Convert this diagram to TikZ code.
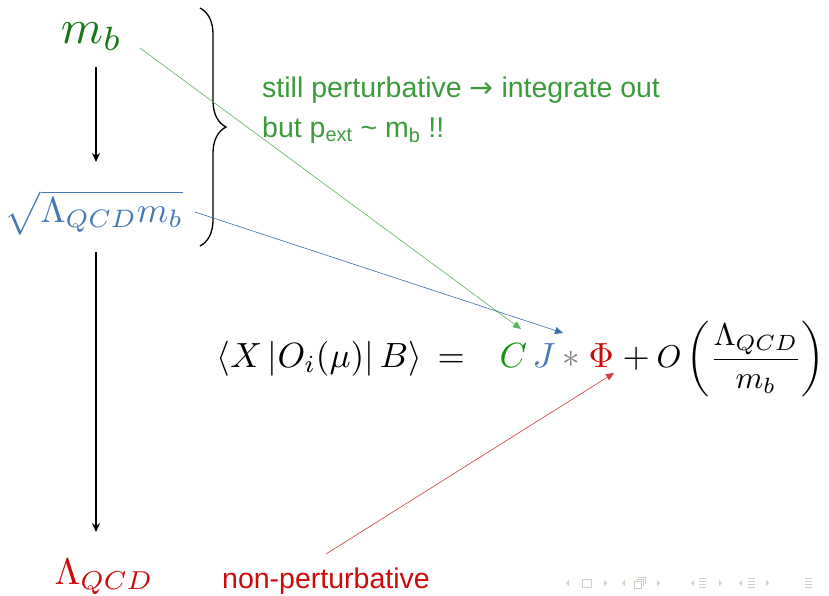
\documentclass[tikz,border=0pt]{standalone}
\usepackage{amsmath}
\usepackage{fontspec}
\newfontfamily\sansarial{Liberation Sans}
\newfontfamily\dejavu{DejaVu Sans}
\usetikzlibrary{arrows.meta,decorations.pathreplacing}
\definecolor{mbgreen}{RGB}{20,120,20}
\definecolor{txtgreen}{RGB}{60,155,60}
\definecolor{arrgreen}{RGB}{90,180,90}
\definecolor{sqblue}{RGB}{70,120,185}
\definecolor{arrblue}{RGB}{60,110,175}
\definecolor{qred}{RGB}{205,10,10}
\definecolor{navgray}{RGB}{200,210,195}
\tikzset{
  eqpart/.style={inner sep=0pt, scale=3.5, anchor=base west},
  sanslabel/.style={inner sep=0pt, font=\sansarial\fontsize{28.5}{40}\selectfont, align=left},
  flowarrow/.style={-{Stealth[length=9pt,width=8pt]}, line width=1.3pt, black},
  pointer/.style={-{Triangle[length=8pt,width=7pt]}, line width=0.6pt},
}
\begin{document}
\begin{tikzpicture}[x=1pt,y=-1pt]
\useasboundingbox[fill=white] (0,0) rectangle (829,595);
% scale column
\node[inner sep=0pt, scale=4.8, anchor=base west, text=mbgreen] (mb) at (60,43) {$m_b$};
\node[inner sep=0pt, scale=3.6, anchor=base west, text=sqblue] (sq) at (4,222) {$\sqrt{\Lambda_{QCD}m_b}$};
\node[inner sep=0pt, scale=3.7, anchor=base west, text=qred] (lq) at (54,584) {$\Lambda_{QCD}$};
\coordinate (a1s) at (96,67);
\coordinate (a1e) at (96,162);
\coordinate (a2s) at (96,252);
\coordinate (a2e) at (96,532);
\draw[flowarrow] (a1s) -- (a1e);
\draw[flowarrow] (a2s) -- (a2e);
% brace
\coordinate (bt) at (200,8);
\coordinate (bb) at (200,246);
\draw[line width=1.3pt, decorate, decoration={brace, amplitude=26pt}] (bt) -- (bb);
% green text
\node[sanslabel, anchor=base west, text=txtgreen] (still) at (262,137) {still perturbative {\dejavu →} integrate out\\but p\textsubscript{ext} \textasciitilde{} m\textsubscript{b} !!};
% equation
\node[eqpart] (lhs) at (216,367) {$\langle X\,|O_i(\mu)|\,B\rangle$};
\node[eqpart] (eq) at (437,367) {$=$};
\node[eqpart, text=mbgreen!80!green] (C) at (499,367) {$C$};
\node[eqpart, text=sqblue] (J) at (532,367) {$J$};
\node[eqpart, text=gray] (st) at (562,367) {$*$};
\node[eqpart, text=qred] (Phi) at (588,367) {$\Phi$};
\node[eqpart] (plus) at (622,367) {$+$};
\node[eqpart, scale=0.9] (rest) at (656,367) {$O\left(\dfrac{\Lambda_{QCD}}{m_b}\right)$};
% pointers
\coordinate (gs) at (140,48);
\coordinate (ge) at (521,329);
\coordinate (bs) at (195,212);
\coordinate (be) at (563,333);
\coordinate (rs) at (326,554);
\coordinate (re) at (614,373);
\draw[pointer, arrgreen] (gs) -- (ge);
\draw[pointer, arrblue] (bs) -- (be);
\draw[pointer, qred!80!white] (rs) -- (re);
% non-perturbative
\node[sanslabel, anchor=base west, text=qred] (np) at (222,588) {non-perturbative};
% navigation symbols
\begin{scope}[navgray, line width=0.7pt]
  \fill (569,580) -- (566,583) -- (569,586) -- cycle;
  \draw (582,579) rectangle (591,587);
  \fill (604,580) -- (607,583) -- (604,586) -- cycle;
  \fill (625,580) -- (622,583) -- (625,586) -- cycle;
  \draw (634,581) rectangle (641,588);
  \draw (636,579) -- (643,579) -- (643,586);
  \draw (638,577) -- (645,577) -- (645,584);
  \fill (657,580) -- (660,583) -- (657,586) -- cycle;
  \fill (694,580) -- (691,583) -- (694,586) -- cycle;
  \foreach \yy in {578,581,584,587} \draw (699,\yy) -- (706,\yy);
  \fill (719,580) -- (722,583) -- (719,586) -- cycle;
  \fill (742,580) -- (739,583) -- (742,586) -- cycle;
  \foreach \yy in {578,581,584,587} \draw (748,\yy) -- (755,\yy);
  \fill (766,580) -- (769,583) -- (766,586) -- cycle;
  \foreach \yy in {578,581,584,587} \draw (805,\yy) -- (812,\yy);
\end{scope}
\end{tikzpicture}
\end{document}
